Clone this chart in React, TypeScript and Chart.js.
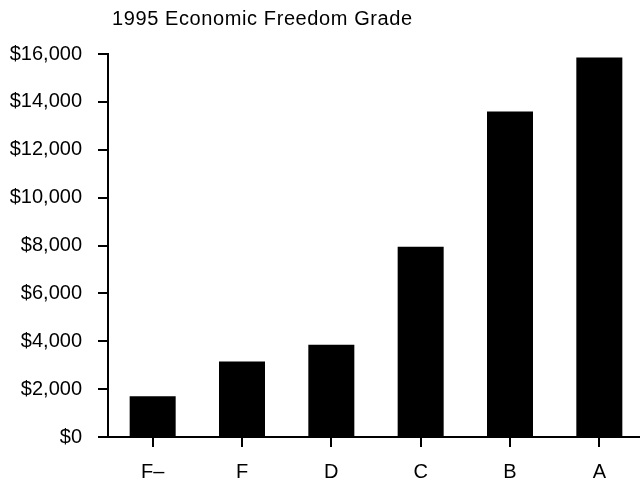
import React, { useEffect, useRef } from 'react';
import { Chart, registerables } from 'chart.js';

Chart.register(...registerables);

const TITLE = '1995 Economic Freedom Grade';
const grades = ['F–', 'F', 'D', 'C', 'B', 'A'];
const gdpPerCapita = [1700, 3150, 3850, 7950, 13600, 15850];
const yMin = 0;
const yMax = 16000;
const yStep = 2000;

const FONT = '"Liberation Sans", Arial, Helvetica, sans-serif';

const titlePlugin = {
  id: 'leftTitle',
  afterDraw(chart: any) {
    const ctx = chart.ctx as CanvasRenderingContext2D;
    ctx.save();
    ctx.font = `20px ${FONT}`;
    ctx.fillStyle = '#000';
    ctx.textAlign = 'left';
    ctx.textBaseline = 'alphabetic';
    (ctx as any).letterSpacing = '0.6px';
    ctx.fillText(TITLE, chart.chartArea.left + 4, 25);
    ctx.restore();
  },
};

export default function App() {
  const ref = useRef<HTMLCanvasElement | null>(null);

  useEffect(() => {
    if (!ref.current) return;
    const chart = new Chart(ref.current, {
      type: 'bar',
      data: {
        labels: grades,
        datasets: [
          {
            data: gdpPerCapita,
            backgroundColor: '#000',
            borderWidth: 0,
            barPercentage: 0.515,
            categoryPercentage: 1,
          },
        ],
      },
      plugins: [titlePlugin],
      options: {
        animation: false,
        responsive: false,
        devicePixelRatio: 1,
        layout: { padding: { top: 54, left: 0, right: 0, bottom: 0 } },
        plugins: {
          legend: { display: false },
          title: { display: false },
          tooltip: { enabled: false },
        },
        scales: {
          x: {
            offset: true,
            afterFit: (s: any) => {
              s.height = 41;
            },
            grid: {
              offset: false,
              drawOnChartArea: false,
              drawTicks: true,
              tickLength: 10,
              color: '#000',
              lineWidth: 2,
            },
            border: { display: true, color: '#000', width: 2 },
            ticks: {
              color: '#000',
              padding: 13,
              font: { family: FONT, size: 20 },
              maxRotation: 0,
            },
          },
          y: {
            min: yMin,
            max: yMax,
            afterFit: (s: any) => {
              s.width = 108;
            },
            grid: {
              drawOnChartArea: false,
              drawTicks: true,
              tickLength: 10,
              color: '#000',
              lineWidth: 2,
            },
            border: { display: true, color: '#000', width: 2 },
            ticks: {
              stepSize: yStep,
              color: '#000',
              padding: 16,
              font: { family: FONT, size: 20 },
              callback: (v: any) => '$' + Number(v).toLocaleString('en-US'),
            },
          },
        },
      },
    });
    return () => chart.destroy();
  }, []);

  return (
    <div
      style={{
        position: 'fixed',
        left: 0,
        top: 0,
        width: 640,
        height: 478,
        overflow: 'hidden',
        background: '#fff',
      }}
    >
      <canvas ref={ref} width={644} height={478} style={{ width: 644, height: 478, display: 'block' }} />
    </div>
  );
}
